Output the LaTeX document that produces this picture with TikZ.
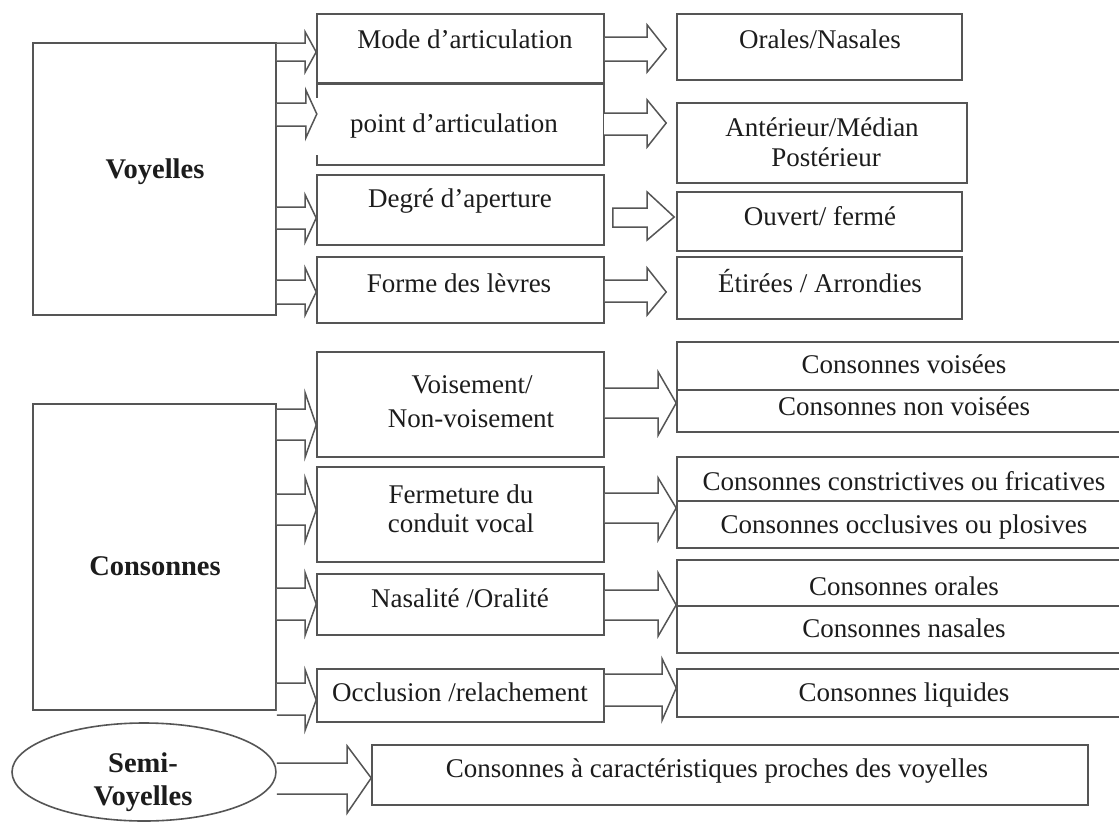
\documentclass[tikz,border=0pt]{standalone}
\usepackage{fontspec}
\setmainfont{Liberation Serif}
\usetikzlibrary{calc,shapes.geometric}
\definecolor{linecol}{RGB}{85,85,85}
\definecolor{textcol}{RGB}{28,28,28}

% rectangle node given by its corners (x1,y1) (x2,y2), y pointing down
\newcommand\boxat[6][box]{%
  \node[#1, minimum width={#5-#3}, minimum height={#6-#4}] (#2) at ({(#3+#5)/2},{(#4+#6)/2}) {};}

% hollow block arrow: from, to, gap before target, head length,
% shaft top, shaft bottom, head top, head bottom, tip y
\newcommand\blockarrow[9]{%
  \draw[arrowline] (#1.east |- 0,#5)
    -- ($(#2.west |- 0,#5)+({-(#3)-(#4)},0)$)
    -- ($(#2.west |- 0,#7)+({-(#3)-(#4)},0)$)
    -- ($(#2.west |- 0,#9)+({-(#3)},0)$)
    -- ($(#2.west |- 0,#8)+({-(#3)-(#4)},0)$)
    -- ($(#2.west |- 0,#6)+({-(#3)-(#4)},0)$)
    -- (#1.east |- 0,#6);}

\tikzset{
  box/.style={draw=linecol, line width=1.6pt, inner sep=0pt, rectangle},
  openbox/.style={draw=none, inner sep=0pt, rectangle},
  edge/.style={draw=linecol, line width=1.6pt},
  arrowline/.style={draw=linecol, line width=1.5pt, line join=miter, fill=white},
  txt/.style={anchor=base, inner sep=0pt, text=textcol, font=\fontsize{27}{32}\selectfont},
  btxt/.style={anchor=base, inner sep=0pt, text=textcol, font=\fontsize{28.5}{34}\selectfont\bfseries},
}

\begin{document}
\begin{tikzpicture}[x=1pt,y=-1pt]
\useasboundingbox (0,0) rectangle (1119,825);
\fill[white] (0,0) rectangle (1119,825);
\clip (0,0) rectangle (1119,825);

% ---------- main categories ----------
\boxat{voy}{33}{43}{276}{315}
\boxat{cons}{33}{404}{276}{710}
\node[draw=linecol, line width=1.6pt, ellipse, inner sep=0pt,
      minimum width=264, minimum height=98] (semi) at (144,772) {};

% ---------- criteria (vowels) ----------
\boxat{mode}{317}{14}{604}{83}
\boxat[openbox]{point}{317}{84}{604}{165}
\draw[edge] ($(point.north west)+(0,14)$) -- (point.north west) -- (point.north east)
  -- (point.south east) -- (point.south west) -- ($(point.south west)+(0,-10)$);
\boxat{degre}{317}{175}{604}{245}
\boxat{forme}{317}{257}{604}{323}

% ---------- criteria (consonants) ----------
\boxat{vois}{317}{352}{604}{457}
\boxat{ferm}{317}{467}{604}{562}
\boxat{nasal}{317}{574}{604}{635}
\boxat{occl}{317}{669}{604}{722}

% ---------- results (vowels) ----------
\boxat{orales}{677}{14}{962}{80}
\boxat{ant}{677}{103}{967}{183}
\boxat{ouvert}{677}{192}{962}{251}
\boxat{etir}{677}{257}{962}{319}

% ---------- results (consonants) ----------
\boxat{rv}{677}{342}{1131}{432}
\boxat{rf}{677}{457}{1131}{548}
\boxat{ro}{677}{560}{1131}{653}
\boxat{rl}{677}{669}{1131}{717}
\draw[edge] (rv.west |- 0,390) -- (rv.east |- 0,390);
\draw[edge] (rf.west |- 0,501) -- (rf.east |- 0,501);
\draw[edge] (ro.west |- 0,606) -- (ro.east |- 0,606);

\boxat{fin}{372}{745}{1088}{805}

% ---------- texts ----------
\node[btxt] (voy-t) at (155,178) {Voyelles};
\node[btxt] (cons-t) at (155,575) {Consonnes};
\node[btxt] (semi-t1) at (143,772) {Semi-};
\node[btxt] (semi-t2) at (143,805) {Voyelles};

\node[txt] (mode-t) at (465,48) {Mode d’articulation};
\node[txt] (point-t) at (454,132) {point d’articulation};
\node[txt] (degre-t) at (460,207) {Degré d’aperture};
\node[txt] (forme-t) at (459,292) {Forme des lèvres};
\node[txt] (vois-t1) at (472,393) {Voisement/};
\node[txt] (vois-t2) at (471,427) {Non-voisement};
\node[txt] (ferm-t1) at (461,503) {Fermeture du};
\node[txt] (ferm-t2) at (461,532) {conduit vocal};
\node[txt] (nasal-t) at (460,607) {Nasalité /Oralité};
\node[txt] (occl-t) at (460,701) {Occlusion /relachement};

\node[txt] (orales-t) at (820,48) {Orales/Nasales};
\node[txt] (ant-t1) at (822,136) {Antérieur/Médian};
\node[txt] (ant-t2) at (826,166) {Postérieur};
\node[txt] (ouvert-t) at (820,225) {Ouvert/ fermé};
\node[txt] (etir-t) at (820,292) {Étirées / Arrondies};

\node[txt] (rv-t1) at (904,373) {Consonnes voisées};
\node[txt] (rv-t2) at (904,415) {Consonnes non voisées};
\node[txt] (rf-t1) at (904,490) {Consonnes constrictives ou fricatives};
\node[txt] (rf-t2) at (904,533) {Consonnes occlusives ou plosives};
\node[txt] (ro-t1) at (904,595) {Consonnes orales};
\node[txt] (ro-t2) at (904,637) {Consonnes nasales};
\node[txt] (rl-t) at (904,701) {Consonnes liquides};
\node[txt] (fin-t) at (717,777) {Consonnes à caractéristiques proches des voyelles};

% ---------- arrows ----------
\blockarrow{voy}{mode}{0}{11}{43}{61}{32}{72}{52}
\blockarrow{voy}{point}{0}{11}{103}{126}{90}{138}{114}
\blockarrow{voy}{degre}{0}{11}{207}{229}{195}{242}{218}
\blockarrow{voy}{forme}{0}{11}{280}{304}{268}{315}{292}

\blockarrow{mode}{orales}{10}{19}{37}{61}{25}{72}{49}
\blockarrow{point}{ant}{10}{19}{113}{135}{100}{147}{123}
\draw[arrowline] ($(degre.east |- 0,208)+(8,0)$)
  -- ($(ouvert.west |- 0,208)+(-29,0)$) -- ($(ouvert.west |- 0,192)+(-29,0)$)
  -- ($(ouvert.west |- 0,217)+(-2,0)$)
  -- ($(ouvert.west |- 0,240)+(-29,0)$) -- ($(ouvert.west |- 0,227)+(-29,0)$)
  -- ($(degre.east |- 0,227)+(8,0)$) -- cycle;
\blockarrow{forme}{etir}{10}{19}{280}{302}{268}{315}{292}

\blockarrow{cons}{vois}{0}{11}{409}{440}{393}{457}{425}
\blockarrow{cons}{ferm}{0}{11}{494}{525}{478}{541}{510}
\blockarrow{cons}{nasal}{0}{11}{588}{620}{573}{635}{604}
\blockarrow{cons}{occl}{0}{11}{683}{715}{670}{730}{700}

\blockarrow{vois}{rv}{0}{18}{388}{418}{372}{435}{403}
\blockarrow{ferm}{rf}{0}{18}{493}{523}{478}{540}{508}
\blockarrow{nasal}{ro}{0}{18}{590}{620}{573}{636}{605}
\blockarrow{occl}{rl}{0}{14}{674}{706}{659}{720}{688}

\blockarrow{semi}{fin}{0}{24}{763}{794}{746}{813}{778}
\end{tikzpicture}
\end{document}
